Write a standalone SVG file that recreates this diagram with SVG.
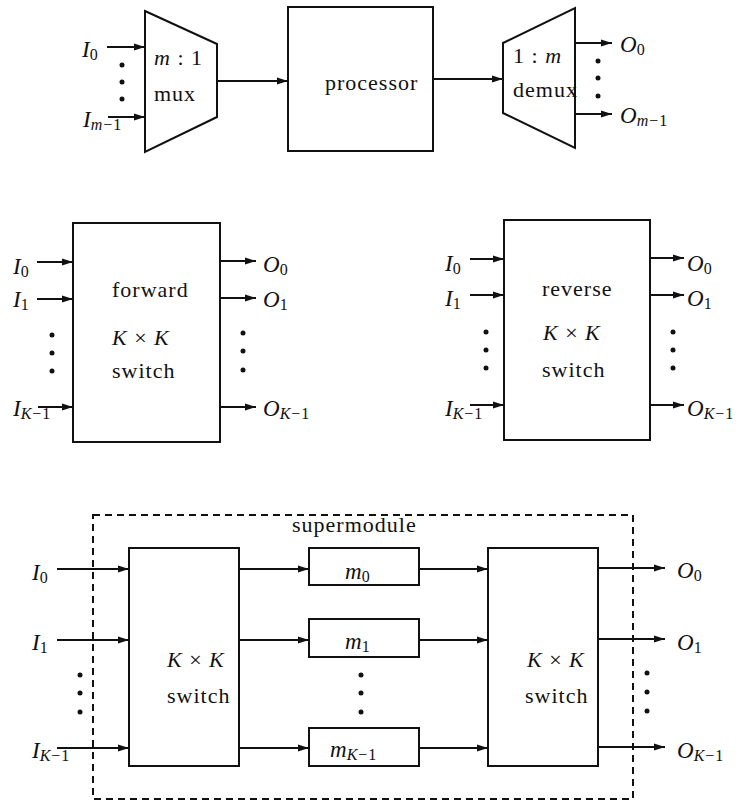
<svg xmlns="http://www.w3.org/2000/svg" width="746" height="803" viewBox="0 0 746 803">
<defs>
<marker id="ah" markerUnits="userSpaceOnUse" markerWidth="11" markerHeight="8" refX="11" refY="4" orient="auto">
<path d="M0,0.5 L11,4 L0,7.5 z" fill="#111"/>
</marker>
<style>
.box{fill:#fff;stroke:#111;stroke-width:2}
.ln{fill:none;stroke:#111;stroke-width:2;marker-end:url(#ah)}
.dash{fill:none;stroke:#111;stroke-width:2;stroke-dasharray:7 5}
.t{font-family:"Liberation Serif","DejaVu Serif",serif;font-size:22px;letter-spacing:1px;fill:#111}
.v{font-family:"Liberation Serif","DejaVu Serif",serif;font-size:23px;font-style:italic;fill:#111}
.s{font-size:16px;letter-spacing:1px}
.n{font-style:normal}
.dot{fill:#111}
</style>
</defs>
<rect width="746" height="803" fill="#fff"/>

<g id="supermodule">
<rect class="dash" x="93" y="515" width="540" height="284"/>
<text class="t" x="292" y="532">supermodule</text>
</g>

<g id="mux">
<polygon class="box" points="145,11 217,44 217,117 145,152"/>
<text class="t" x="154" y="65"><tspan font-style="italic">m</tspan> : 1</text>
<text class="t" x="154" y="101">mux</text>
</g>
<g id="processor">
<rect class="box" x="288" y="7" width="145" height="144"/>
<text class="t" x="325" y="90">processor</text>
</g>
<g id="demux">
<polygon class="box" points="503,43 575,8 575,148 503,113"/>
<text class="t" x="513" y="63">1 : <tspan font-style="italic">m</tspan></text>
<text class="t" x="513" y="97">demux</text>
</g>

<g id="forward">
<rect class="box" x="73" y="223" width="147" height="219"/>
<text class="t" x="112" y="297">forward</text>
<text class="t" x="112" y="345"><tspan font-style="italic">K</tspan> × <tspan font-style="italic">K</tspan></text>
<text class="t" x="112" y="378">switch</text>
</g>
<g id="reverse">
<rect class="box" x="504" y="220" width="146" height="220"/>
<text class="t" x="542" y="296">reverse</text>
<text class="t" x="543" y="340"><tspan font-style="italic">K</tspan> × <tspan font-style="italic">K</tspan></text>
<text class="t" x="542" y="377">switch</text>
</g>

<g id="switchL">
<rect class="box" x="129" y="548" width="110" height="218"/>
<text class="t" x="167" y="667"><tspan font-style="italic">K</tspan> × <tspan font-style="italic">K</tspan></text>
<text class="t" x="167" y="703">switch</text>
</g>
<g id="m0">
<rect class="box" x="309" y="548" width="110" height="37"/>
<text class="v" x="345" y="579">m<tspan class="s n" dy="3">0</tspan></text>
</g>
<g id="m1">
<rect class="box" x="309" y="619" width="110" height="38"/>
<text class="v" x="345" y="649">m<tspan class="s n" dy="3">1</tspan></text>
</g>
<g id="mK1">
<rect class="box" x="309" y="728" width="110" height="38"/>
<text class="v" x="330" y="757">m<tspan class="s" dy="3">K<tspan class="n">−1</tspan></tspan></text>
</g>
<g id="switchR">
<rect class="box" x="488" y="548" width="110" height="218"/>
<text class="t" x="527" y="667"><tspan font-style="italic">K</tspan> × <tspan font-style="italic">K</tspan></text>
<text class="t" x="525" y="703">switch</text>
</g>

<g id="connectors">
<line class="ln" x1="107" y1="47" x2="145" y2="47"/>
<line class="ln" x1="108" y1="117" x2="145" y2="117"/>
<line class="ln" x1="217" y1="81" x2="288" y2="81"/>
<line class="ln" x1="433" y1="79" x2="503" y2="79"/>
<line class="ln" x1="575" y1="43" x2="612" y2="43"/>
<line class="ln" x1="575" y1="114" x2="612" y2="114"/>

<line class="ln" x1="37" y1="262" x2="73" y2="262"/>
<line class="ln" x1="37" y1="299" x2="73" y2="299"/>
<line class="ln" x1="38" y1="407" x2="73" y2="407"/>
<line class="ln" x1="220" y1="261" x2="256" y2="261"/>
<line class="ln" x1="220" y1="298" x2="256" y2="298"/>
<line class="ln" x1="220" y1="407" x2="256" y2="407"/>

<line class="ln" x1="470" y1="259" x2="504" y2="259"/>
<line class="ln" x1="470" y1="295" x2="504" y2="295"/>
<line class="ln" x1="470" y1="405" x2="504" y2="405"/>
<line class="ln" x1="650" y1="258" x2="684" y2="258"/>
<line class="ln" x1="650" y1="295" x2="684" y2="295"/>
<line class="ln" x1="650" y1="405" x2="684" y2="405"/>

<line class="ln" x1="57" y1="569" x2="129" y2="569"/>
<line class="ln" x1="57" y1="640" x2="129" y2="640"/>
<line class="ln" x1="57" y1="748" x2="129" y2="748"/>
<line class="ln" x1="239" y1="569" x2="309" y2="569"/>
<line class="ln" x1="239" y1="640" x2="309" y2="640"/>
<line class="ln" x1="239" y1="748" x2="309" y2="748"/>
<line class="ln" x1="419" y1="569" x2="488" y2="569"/>
<line class="ln" x1="419" y1="640" x2="488" y2="640"/>
<line class="ln" x1="419" y1="748" x2="488" y2="748"/>
<line class="ln" x1="598" y1="568" x2="665" y2="568"/>
<line class="ln" x1="598" y1="639" x2="665" y2="639"/>
<line class="ln" x1="598" y1="747" x2="665" y2="747"/>
</g>

<g id="dots">
<circle class="dot" cx="122" cy="65" r="2.5"/><circle class="dot" cx="122" cy="82" r="2.5"/><circle class="dot" cx="122" cy="99" r="2.5"/>
<circle class="dot" cx="598" cy="61" r="2.5"/><circle class="dot" cx="598" cy="78" r="2.5"/><circle class="dot" cx="598" cy="96" r="2.5"/>
<circle class="dot" cx="52" cy="335" r="2.5"/><circle class="dot" cx="52" cy="353" r="2.5"/><circle class="dot" cx="52" cy="371" r="2.5"/>
<circle class="dot" cx="243" cy="333" r="2.5"/><circle class="dot" cx="243" cy="351" r="2.5"/><circle class="dot" cx="243" cy="370" r="2.5"/>
<circle class="dot" cx="486" cy="332" r="2.5"/><circle class="dot" cx="486" cy="350" r="2.5"/><circle class="dot" cx="486" cy="368" r="2.5"/>
<circle class="dot" cx="673" cy="332" r="2.5"/><circle class="dot" cx="673" cy="350" r="2.5"/><circle class="dot" cx="673" cy="368" r="2.5"/>
<circle class="dot" cx="80" cy="675" r="2.5"/><circle class="dot" cx="80" cy="693" r="2.5"/><circle class="dot" cx="80" cy="712" r="2.5"/>
<circle class="dot" cx="361" cy="675" r="2.5"/><circle class="dot" cx="361" cy="693" r="2.5"/><circle class="dot" cx="361" cy="712" r="2.5"/>
<circle class="dot" cx="647" cy="673" r="2.5"/><circle class="dot" cx="647" cy="692" r="2.5"/><circle class="dot" cx="647" cy="711" r="2.5"/>
</g>

<g id="labels">
<text class="v" x="82" y="57">I<tspan class="s n" dy="3">0</tspan></text>
<text class="v" x="83" y="127">I<tspan class="s" dy="3">m<tspan class="n">−1</tspan></tspan></text>
<text class="v" x="620" y="52">O<tspan class="s n" dy="3">0</tspan></text>
<text class="v" x="620" y="123">O<tspan class="s" dy="3">m<tspan class="n">−1</tspan></tspan></text>

<text class="v" x="13" y="274">I<tspan class="s n" dy="3">0</tspan></text>
<text class="v" x="13" y="307">I<tspan class="s n" dy="3">1</tspan></text>
<text class="v" x="13" y="416">I<tspan class="s" dy="3">K<tspan class="n">−1</tspan></tspan></text>
<text class="v" x="263" y="272">O<tspan class="s n" dy="3">0</tspan></text>
<text class="v" x="263" y="307">O<tspan class="s n" dy="3">1</tspan></text>
<text class="v" x="263" y="416">O<tspan class="s" dy="3">K<tspan class="n">−1</tspan></tspan></text>

<text class="v" x="445" y="271">I<tspan class="s n" dy="3">0</tspan></text>
<text class="v" x="445" y="306">I<tspan class="s n" dy="3">1</tspan></text>
<text class="v" x="445" y="416">I<tspan class="s" dy="3">K<tspan class="n">−1</tspan></tspan></text>
<text class="v" x="687" y="271">O<tspan class="s n" dy="3">0</tspan></text>
<text class="v" x="687" y="306">O<tspan class="s n" dy="3">1</tspan></text>
<text class="v" x="687" y="416">O<tspan class="s" dy="3">K<tspan class="n">−1</tspan></tspan></text>

<text class="v" x="32" y="580">I<tspan class="s n" dy="3">0</tspan></text>
<text class="v" x="32" y="650">I<tspan class="s n" dy="3">1</tspan></text>
<text class="v" x="32" y="758">I<tspan class="s" dy="3">K<tspan class="n">−1</tspan></tspan></text>
<text class="v" x="677" y="578">O<tspan class="s n" dy="3">0</tspan></text>
<text class="v" x="677" y="650">O<tspan class="s n" dy="3">1</tspan></text>
<text class="v" x="677" y="758">O<tspan class="s" dy="3">K<tspan class="n">−1</tspan></tspan></text>
</g>
</svg>
